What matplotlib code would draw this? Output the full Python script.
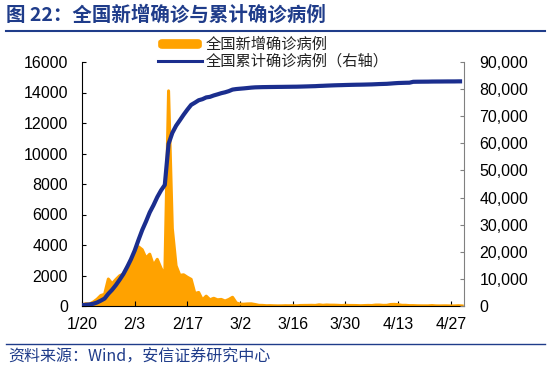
import matplotlib
matplotlib.use("Agg")
import matplotlib.pyplot as plt
import numpy as np
import pandas as pd
from matplotlib.patches import FancyBboxPatch
from matplotlib.lines import Line2D
from matplotlib.ticker import FuncFormatter

start_date = "2020-01-20"
daily_new = [77, 149, 131, 259, 444, 688, 769, 1771, 1459, 1737,
             1982, 2102, 2590, 2829, 3235, 3887, 3694, 3143, 3399, 2656,
             3062, 2478, 2015, 14108, 5090, 2641, 2009, 2048, 1886, 1749,
             820, 889, 397, 648, 409, 508, 406, 433, 327, 427,
             573, 202, 125, 119, 139, 143, 99, 44, 40, 19,
             24, 15, 8, 11, 20, 16, 21, 13, 34, 39,
             41, 46, 39, 78, 47, 67, 55, 54, 45, 31,
             48, 36, 35, 31, 19, 30, 39, 32, 62, 63,
             42, 46, 99, 108, 89, 46, 46, 26, 27, 16,
             12, 11, 11, 30, 10, 6, 12, 11, 3, 6,
             22, 4]
cumulative = [291, 440, 571, 830, 1287, 1975, 2744, 4515, 5974, 7711,
              9692, 11791, 14380, 17205, 20438, 24324, 28018, 31161, 34546, 37198,
              40171, 42638, 44653, 59804, 63851, 66492, 68500, 70548, 72436, 74185,
              75002, 75891, 76288, 76936, 77150, 77658, 78064, 78497, 78824, 79251,
              79824, 80026, 80151, 80270, 80409, 80552, 80651, 80695, 80735, 80754,
              80778, 80793, 80813, 80824, 80844, 80860, 80881, 80894, 80928, 80967,
              81008, 81054, 81093, 81171, 81218, 81285, 81340, 81394, 81439, 81470,
              81518, 81554, 81589, 81620, 81639, 81669, 81708, 81740, 81802, 81865,
              81907, 81953, 82052, 82160, 82249, 82295, 82341, 82367, 82692, 82719,
              82735, 82747, 82758, 82788, 82798, 82804, 82816, 82827, 82830, 82836,
              82858, 82862]
tick_labels = ["1/20", "2/3", "2/17", "3/2", "3/16", "3/30", "4/13", "4/27"]
left_ticks = [0, 2000, 4000, 6000, 8000, 10000, 12000, 14000, 16000]
right_ticks = [0, 10000, 20000, 30000, 40000, 50000, 60000, 70000, 80000, 90000]
series_names = ["全国新增确诊病例", "全国累计确诊病例（右轴）"]
title = "图 22：全国新增确诊与累计确诊病例"
source = "资料来源：Wind，安信证券研究中心"

ORANGE = "#FFA200"
BLUE = "#1B2E8E"
TBLUE = "#1F3C8A"
LAT = ["Liberation Sans", "Noto Sans CJK SC"]
CJK = ["Noto Sans CJK SC", "DejaVu Sans"]

dates = pd.date_range(start_date, periods=len(daily_new), freq="D")
x = np.arange(len(daily_new))

W, H = 550, 370
fig = plt.figure(figsize=(W / 100, H / 100), dpi=100)
ax = fig.add_axes([82 / W, 1 - 306 / H, (464 - 82) / W, (306 - 62) / H])

ax.fill_between(x, daily_new, 0, color=ORANGE, lw=0)
ax.plot(x, daily_new, color=ORANGE, lw=2.2, solid_joinstyle="round")
ax.set_ylim(0, 16000)
ax.set_yticks(left_ticks)
ax.set_xlim(0, len(daily_new) - 0.5)
tick_pos = [int((pd.Timestamp("2020-" + t.replace("/", "-")) - dates[0]).days) for t in tick_labels]
ax.set_xticks(tick_pos)
ax.set_xticklabels(tick_labels)

ax2 = ax.twinx()
ax2.plot(x, cumulative, color=BLUE, lw=3.0, solid_capstyle="butt")
ax2.set_ylim(0, 90000)
ax2.set_yticks(right_ticks)
ax2.yaxis.set_major_formatter(FuncFormatter(lambda v, p: f"{int(v):,}"))

for a in (ax, ax2):
    a.spines["top"].set_visible(False)
    a.set_facecolor("none")
ax.spines["left"].set_color("black")
ax.spines["bottom"].set_color("black")
ax.spines["right"].set_visible(False)
ax2.spines["left"].set_visible(False)
ax2.spines["bottom"].set_visible(False)
ax2.spines["right"].set_color("#808080")

ax.tick_params(axis="y", direction="in", length=3, pad=10, labelsize=11.5)
ax.tick_params(axis="x", direction="in", length=3.5, pad=8, labelsize=11.5)
ax2.tick_params(axis="y", direction="in", length=3, pad=11, labelsize=11.5, color="#808080")
for lab in ax.get_xticklabels() + ax.get_yticklabels() + ax2.get_yticklabels():
    lab.set_family(LAT)

# legend drawn in figure pixel coordinates
def fx(px):
    return px / W

def fy(py):
    return 1 - py / H

fig.add_artist(FancyBboxPatch((fx(159), fy(48)), fx(201) - fx(159), fy(40) - fy(48),
                              boxstyle="round,pad=0.0,rounding_size=0.006",
                              transform=fig.transFigure, facecolor=ORANGE, edgecolor=ORANGE,
                              lw=1.2))
fig.add_artist(Line2D([fx(158), fx(202)], [fy(61), fy(61)], color=BLUE, lw=2.2))
fig.text(fx(206), fy(44.5), series_names[0], fontsize=11, color="#222222",
         va="center", ha="left", family=CJK)
fig.text(fx(206), fy(61.5), series_names[1], fontsize=11, color="#222222",
         va="center", ha="left", family=CJK)

fig.text(6 / W, 1 - 15 / H, title, fontsize=14, fontweight="bold", color=TBLUE,
         va="center", ha="left", family=CJK)
fig.add_artist(Line2D([6 / W, 545 / W], [1 - 31 / H, 1 - 31 / H], color=TBLUE, lw=1.5))
fig.add_artist(Line2D([6 / W, 545 / W], [1 - 344 / H, 1 - 344 / H], color=TBLUE, lw=1.0))
fig.text(8 / W, 1 - 357 / H, source, fontsize=11.5, color=TBLUE, va="center", ha="left",
         family=CJK, style="italic")

fig.savefig("out.png", dpi=100)
